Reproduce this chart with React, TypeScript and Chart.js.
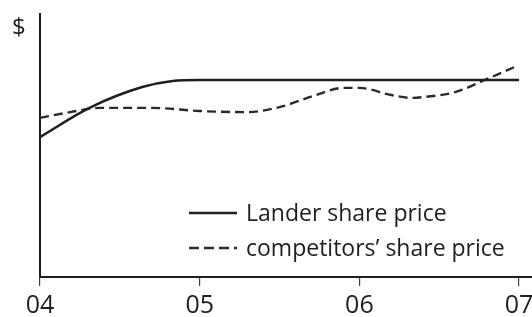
import React, { useEffect, useRef } from "react";
import { Chart, registerables } from "chart.js";

Chart.register(...registerables);

// ---- data ----
const tickYears = [2004, 2005, 2006, 2007];
const tickLabels = ["04", "05", "06", "07"];
const yUnitLabel = "$";

const landerLabel = "Lander share price";
const landerYears = [2004.0, 2004.31, 2004.64, 2004.83, 2005.0, 2006.0, 2007.0];
const landerPrices = [53.2, 64.3, 72.2, 74.5, 74.9, 74.9, 74.9];

const competitorLabel = "competitors\u2019 share price";
const competitorYears = [
  2004.0, 2004.19, 2004.38, 2004.7, 2005.0, 2005.3, 2005.5, 2005.71, 2005.9,
  2006.0, 2006.2, 2006.33, 2006.4, 2006.6, 2006.8, 2006.97,
];
const competitorPrices = [
  60.5, 62.7, 64.3, 64.3, 63.1, 62.7, 64.6, 68.8, 71.9, 71.9, 69.2, 68.1, 68.4,
  70.3, 75.3, 79.8,
];

const INK = "#1f1f1f";
const FONT = "'Open Sans', 'DejaVu Sans', sans-serif";

const overlayPlugin = {
  id: "overlay",
  afterDraw(chart: any) {
    const ctx = chart.ctx as CanvasRenderingContext2D;
    ctx.save();
    ctx.fillStyle = INK;
    ctx.font = `24px ${FONT}`;
    ctx.textBaseline = "alphabetic";
    ctx.textAlign = "left";
    ctx.fillText(yUnitLabel, 12, 35);

    const rows = chart.data.datasets;
    const x0 = 189;
    const x1 = 237;
    const textX = 246;
    const firstY = 213;
    const gap = 35;
    rows.forEach((ds: any, i: number) => {
      const y = firstY + i * gap;
      ctx.beginPath();
      ctx.setLineDash(ds.borderDash ? [10, 5] : []);
      ctx.lineWidth = 2.4;
      ctx.strokeStyle = ds.borderColor;
      ctx.moveTo(x0, y);
      ctx.lineTo(x1, y);
      ctx.stroke();
      ctx.setLineDash([]);
      ctx.font = `23px ${FONT}`;
      ctx.textBaseline = "middle";
      ctx.fillStyle = INK;
      ctx.fillText(ds.label, textX, y + 1);
    });
    ctx.restore();
  },
};

export default function App() {
  const canvasRef = useRef<HTMLCanvasElement | null>(null);

  useEffect(() => {
    if (!canvasRef.current) return;
    const chart = new Chart(canvasRef.current, {
      type: "line",
      data: {
        datasets: [
          {
            label: landerLabel,
            data: landerYears.map((x, i) => ({ x, y: landerPrices[i] })),
            borderColor: INK,
            borderWidth: 2.6,
            pointRadius: 0,
            cubicInterpolationMode: "monotone",
            fill: false,
          },
          {
            label: competitorLabel,
            data: competitorYears.map((x, i) => ({ x, y: competitorPrices[i] })),
            borderColor: "#2a2a2a",
            borderWidth: 2.4,
            borderDash: [9, 5],
            pointRadius: 0,
            cubicInterpolationMode: "monotone",
            fill: false,
          },
        ],
      },
      options: {
        responsive: false,
        animation: false,
        layout: { padding: { left: 40, top: 14, right: -5, bottom: 0 } },
        plugins: {
          legend: { display: false },
          tooltip: { enabled: false },
        },
        scales: {
          x: {
            type: "linear",
            min: 2004,
            max: 2007.081,
            afterBuildTicks: (axis: any) => {
              axis.ticks = tickYears.map((v) => ({ value: v }));
            },
            afterFit: (axis: any) => {
              axis.paddingLeft = 0;
              axis.paddingRight = 0;
              axis.height = 40;
            },
            grid: {
              display: true,
              drawOnChartArea: false,
              drawTicks: true,
              tickLength: 9,
              tickColor: "#444",
              lineWidth: 1.2,
            },
            border: { display: true, color: INK, width: 2 },
            ticks: {
              padding: 7.75,
              color: INK,
              maxRotation: 0,
              autoSkip: false,
              font: { family: FONT, size: 25, lineHeight: 0.93 },
              callback: (_v: any, index: number) => tickLabels[index],
            },
          },
          y: {
            min: 0,
            max: 100,
            grid: { display: false, drawTicks: false },
            border: { display: true, color: INK, width: 2 },
            ticks: { display: false },
          },
        },
      },
      plugins: [overlayPlugin],
    } as any);
    return () => chart.destroy();
  }, []);

  return (
    <div style={{ position: "absolute", left: 0, top: 0, width: 532, height: 317, background: "#fff" }}>
      <canvas ref={canvasRef} width={532} height={317} />
    </div>
  );
}
